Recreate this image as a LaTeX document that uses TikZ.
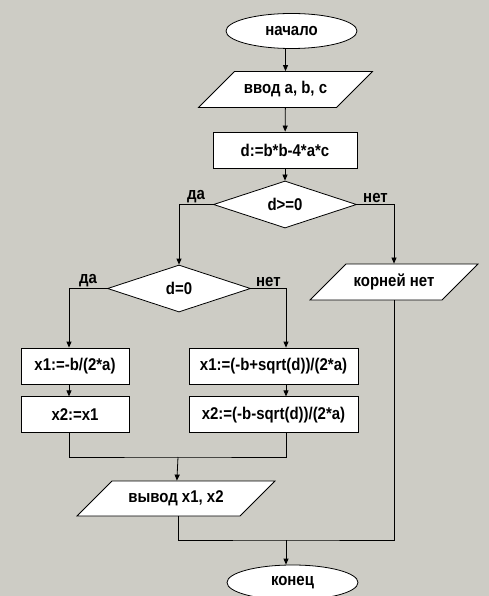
\documentclass[tikz,border=0pt]{standalone}
\usepackage{fontspec}
\setmainfont[FakeStretch=0.88]{Liberation Sans}
\usetikzlibrary{positioning,calc,shapes.geometric,arrows.meta}
\definecolor{bgstone}{RGB}{205,204,197}

\begin{document}
\begin{tikzpicture}[
  x=1pt, y=-1pt,
  >={Triangle[length=6pt,width=5pt]},
  every node/.style={font=\fontsize{17}{19}\selectfont\bfseries, align=center},
  box/.style={draw, fill=white, line width=0.8pt, inner sep=2pt},
  terminal/.style={box, ellipse, minimum width=131pt, minimum height=35pt, inner sep=0pt},
  action/.style={box, rectangle, minimum height=36pt},
  io/.style={box, trapezium, trapezium left angle=45, trapezium right angle=135,
    trapezium stretches body, text height=11pt, text depth=3pt, inner ysep=11pt},
  test/.style={box, diamond, aspect=3, minimum width=143pt, minimum height=47pt, inner sep=0pt},
  answer/.style={above, inner sep=1pt},
  every path/.style={line width=0.8pt}
]

\fill[bgstone] (0,0) rectangle (489,596);
\useasboundingbox (0,0) rectangle (489,596);

\node[terminal] (start) at (291.5,31) {начало};
\node[io, minimum width=174pt] (inp) at (285.5,89.5) {ввод a, b, c};
\node[action, minimum width=144pt] (disc) at (285,150) {d:=b*b-4*a*c};
\node[test] (ge) at (285,204.5) {d>=0};

\node[test] (zero) at (179,288.5) {d=0};
\node[io, minimum width=168pt] (none) at (394,282) {корней нет};

\node[action, minimum width=108pt] (x1one) at (75,366) {x1:=-b/(2*a)};
\node[action, minimum width=108pt, below=12pt of x1one] (x2one) {x2:=x1};
\node[action, minimum width=169pt] (x1two) at (273.5,366) {x1:=(-b+sqrt(d))/(2*a)};
\node[action, minimum width=169pt, below=12pt of x1two] (x2two) {x2:=(-b-sqrt(d))/(2*a)};

\node[io, minimum width=198pt, inner ysep=10.5pt] (outp) at (176,498.5) {вывод x1, x2};
\node[terminal] (stop) at (292.5,582.5) {конец};

% columns of the connectors
\coordinate (lcol) at (69,0);
\coordinate (rcol) at (286,0);
\coordinate (meet) at (178,457);
\coordinate (join) at (286,540);

\draw[->] (start.south -| inp) -- (inp);
\draw[->] (inp) -- (disc);
\draw[->] (disc) -- (ge);

\draw[->] (ge.west) -| node[answer, pos=0.25] {да} (zero);
\draw[->] (ge.east) -| node[answer, pos=0.25] {нет} (none);

\draw[->] (zero.west) -| node[answer, pos=0.25] {да} (lcol |- x1one.north);
\draw[->] (zero.east) -| node[answer, pos=0.25] {нет} (rcol |- x1two.north);

\draw[->] (x1one.south -| lcol) -- (x2one.north -| lcol);
\draw[->] (x1two.south -| rcol) -- (x2two.north -| rcol);

\draw (x2one.south -| lcol) |- (meet) -| (x2two.south -| rcol);
\draw[->] (meet) -- (outp);

\draw (outp.south -| meet) |- (join) -| (none.south);
\draw[->] (join) -- (join |- stop.north);

\end{tikzpicture}
\end{document}
